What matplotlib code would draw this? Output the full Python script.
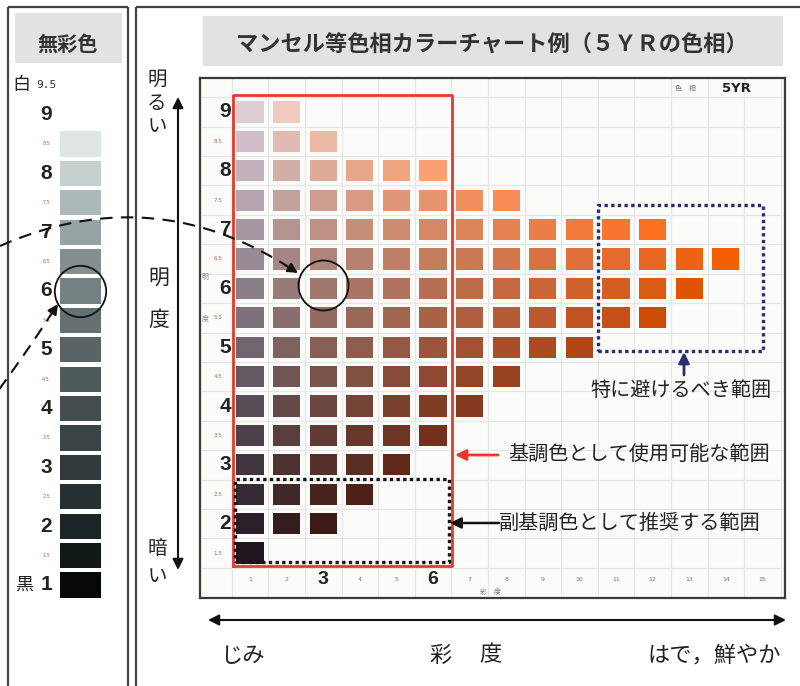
import numpy as np
import matplotlib.pyplot as plt

plt.rcParams['font.family'] = ['Noto Sans CJK JP', 'DejaVu Sans']

# chart data: Munsell value rows and the highest chroma printed in each row (5YR)
chart_values = [9, 8.5, 8, 7.5, 7, 6.5, 6, 5.5, 5, 4.5, 4, 3.5, 3, 2.5, 2, 1.5]
max_chroma = [2, 3, 6, 8, 12, 14, 13, 12, 10, 8, 7, 6, 5, 4, 3, 1]
value_labels = [9, 8, 7, 6, 5, 4, 3, 2]
half_labels = [8.5, 7.5, 6.5, 5.5, 4.5, 3.5, 2.5, 1.5]
chroma_ticks = list(range(1, 16))
big_chroma = [3, 6]

# achromatic scale
grey_values = [8.5, 8, 7.5, 7, 6.5, 6, 5.5, 5, 4.5, 4, 3.5, 3, 2.5, 2, 1.5, 1]
grey_colors = ['#dfe5e3', '#c5cfce', '#adb8b8', '#97a3a3', '#838f8f', '#758181',
               '#657070', '#5a6464', '#4e5959', '#434d4d', '#3a4444', '#313a3a',
               '#283131', '#1c2525', '#111818', '#070909']
grey_labels = [9, 8, 7, 6, 5, 4, 3, 2, 1]

# marked regions (chroma_from, chroma_to, value_from, value_to)
base_region = (0.53, 6.52, 1.28, 9.29)
sub_region = (0.59, 6.44, 1.35, 2.76)
avoid_region = (10.51, 15.02, 4.94, 7.42)


def lab_to_rgb(L, a, b):
    fy = (L + 16) / 116
    fx = fy + a / 500
    fz = fy - b / 200
    def finv(t):
        return t ** 3 if t > 6 / 29 else 3 * (6 / 29) ** 2 * (t - 4 / 29)
    X, Y, Z = 0.95047 * finv(fx), finv(fy), 1.08883 * finv(fz)
    lin = [3.2406 * X - 1.5372 * Y - 0.4986 * Z,
           -0.9689 * X + 1.8758 * Y + 0.0415 * Z,
           0.0557 * X - 0.2040 * Y + 1.0570 * Z]
    out = []
    for u in lin:
        u = max(u, 0)
        u = 12.92 * u if u <= 0.0031308 else 1.055 * u ** (1 / 2.4) - 0.055
        out.append(min(max(u, 0), 1))
    return tuple(out)


def cell_color(v, c):
    # rough 5YR appearance of the printed chips
    L = 10 * v - 6
    k = 6.2 + 1.0 * max(v - 6.5, 0)
    h = np.deg2rad(44 + 1.5 * v)
    return lab_to_rgb(L, k * c * np.cos(h) + 3, k * c * np.sin(h) - 9 / c)


def bezier(p0, p1, p2, n=80):
    t = np.linspace(0, 1, n)[:, None]
    return (1 - t) ** 2 * np.array(p0) + 2 * t * (1 - t) * np.array(p1) + t ** 2 * np.array(p2)


W, H = 800, 686
fig = plt.figure(figsize=(8, 6.86), dpi=100)

# ---- colour chart ----
ax = fig.add_axes([200 / W, 1 - 598 / H, 585 / W, 520 / H])
ax.set_xlim(-0.366, 15.617)
ax.set_ylim(0.735, 9.578)
ax.set_facecolor('#fbfbf9')
ax.set_xticks([])
ax.set_yticks([])
for s in ax.spines.values():
    s.set_color('#3a3a3a')
    s.set_linewidth(1.6)

for c in np.arange(0.5, 16, 1):
    ax.axvline(c, color='#e6e6e6', lw=0.8, zorder=1)
for v in np.arange(1.25, 9.5, 0.5):
    ax.axhline(v, color='#e6e6e6', lw=0.8, zorder=1)

for v, cmax in zip(chart_values, max_chroma):
    cs = np.arange(1, cmax + 1)
    ax.bar(cs, 0.36, bottom=v - 0.18, width=0.74,
           color=[cell_color(v, c) for c in cs], zorder=2)

for v in value_labels:
    ax.text(0.32, v, str(v), ha='center', va='center', fontsize=15,
            fontweight='bold', family='Liberation Sans', color='#222')
for v in half_labels:
    ax.text(0.12, v, str(v), ha='center', va='center', fontsize=4,
            color='#9a6a60', family='DejaVu Sans')
for c in chroma_ticks:
    if c in big_chroma:
        ax.text(c, 1.05, str(c), ha='center', va='center', fontsize=14,
                fontweight='bold', family='Liberation Sans', color='#222')
    else:
        ax.text(c, 1.05, str(c), ha='center', va='center', fontsize=4.5,
                color='#777', family='DejaVu Sans')
ax.text(7.56, 0.83, '彩　度', ha='center', va='center', fontsize=5, color='#777')
ax.text(-0.23, 6.2, '明', ha='center', va='center', fontsize=5, color='#888')
ax.text(-0.23, 5.5, '度', ha='center', va='center', fontsize=5, color='#888')
ax.text(12.9, 9.4, '色　相', ha='center', va='center', fontsize=5, color='#777')
ax.text(14.3, 9.4, '5YR', ha='center', va='center', fontsize=9.5,
        fontweight='bold', family='DejaVu Sans', color='#222')

x0, x1, y0, y1 = base_region
ax.plot([x0, x1, x1, x0, x0], [y0, y0, y1, y1, y0], color='#e8392c', lw=2, zorder=4)
x0, x1, y0, y1 = sub_region
ax.plot([x0, x1, x1, x0, x0], [y0, y0, y1, y1, y0], color='#151515', lw=2.4,
        dashes=(1, 1), zorder=5)
x0, x1, y0, y1 = avoid_region
ax.plot([x0, x1, x1, x0, x0], [y0, y0, y1, y1, y0], color='#2b2d6e', lw=2.4,
        dashes=(1, 1), zorder=5)
ax.plot(3, 6.05, 'o', ms=36, mfc='none', mec='#111', mew=1.3, zorder=6)

# ---- achromatic strip ----
gax = fig.add_axes([8 / W, 0, 121 / W, 1])
gax.set_xlim(0, 1)
gax.set_ylim(-0.718, 10.949)
gax.axis('off')
gax.bar([0.6] * len(grey_values), 0.43, bottom=np.array(grey_values) - 0.215,
        width=0.339, color=grey_colors, zorder=2)
for v in grey_labels:
    gax.text(0.315, v, str(v), ha='center', va='center', fontsize=15,
             fontweight='bold', family='Liberation Sans', color='#222')
for v in grey_values[::2]:
    gax.text(0.315, v, str(v), ha='center', va='center', fontsize=3.5,
             color='#9a6a60', family='DejaVu Sans')
gax.text(0.32, 9.5, '9.5', ha='center', va='center', fontsize=8,
         family='DejaVu Sans Mono', color='#333')
gax.text(0.11, 9.5, '白', ha='center', va='center', fontsize=13, color='#222')
gax.text(0.13, 1, '黒', ha='center', va='center', fontsize=13, color='#222')
gax.plot(0.595, 6.0, 'o', ms=37, mfc='none', mec='#111', mew=1.3, zorder=4)

# ---- overlay: frames, headers, arrows, notes ----
ov = fig.add_axes([0, 0, 1, 1], zorder=5)
ov.set_xlim(0, W)
ov.set_ylim(H, 0)
ov.axis('off')
ov.patch.set_alpha(0)

frame = dict(color='#444', lw=1.6, solid_capstyle='butt')
ov.plot([8, 8], [7, H], **frame)
ov.plot([128, 128], [7, H], **frame)
ov.plot([8, 128], [7, 7], **frame)
ov.plot([136, 136], [7, H], **frame)
ov.plot([136, W], [7, 7], **frame)

ov.add_patch(plt.Rectangle((15, 13), 107, 50, color='#e2e2e2', lw=0))
ov.add_patch(plt.Rectangle((203, 16), 580, 50, color='#e2e2e2', lw=0))
ov.text(68, 44, '無彩色', ha='center', va='center', fontsize=14.5,
        fontweight='bold', color='#333')
ov.text(492, 44, 'マンセル等色相カラーチャート例（５ＹＲの色相）', ha='center',
        va='center', fontsize=16, fontweight='bold', color='#333')

for ch, y in zip('明るい', [79, 103, 127]):
    ov.text(157, y, ch, ha='center', va='center', fontsize=14, color='#222')
for ch, y in zip('明度', [278, 320]):
    ov.text(159, y, ch, ha='center', va='center', fontsize=15, color='#222')
for ch, y in zip('暗い', [548, 576]):
    ov.text(157, y, ch, ha='center', va='center', fontsize=14, color='#222')

ov.annotate('', xy=(178, 97), xytext=(178, 570),
            arrowprops=dict(arrowstyle='<|-|>', color='#111', lw=1.5,
                            mutation_scale=16, shrinkA=0, shrinkB=0))
ov.annotate('', xy=(786, 620), xytext=(208, 620),
            arrowprops=dict(arrowstyle='<|-|>', color='#111', lw=1.5,
                            mutation_scale=16, shrinkA=0, shrinkB=0))
ov.text(243, 655, 'じみ', ha='center', va='center', fontsize=16, color='#222')
ov.text(441, 655, '彩', ha='center', va='center', fontsize=16, color='#222')
ov.text(490, 655, '度', ha='center', va='center', fontsize=16, color='#222')
ov.text(714, 655, 'はで，鮮やか', ha='center', va='center', fontsize=16, color='#222')

# notes
ov.annotate('', xy=(455, 455), xytext=(498, 455),
            arrowprops=dict(arrowstyle='-|>', color='#e8392c', lw=2,
                            mutation_scale=16, shrinkA=0, shrinkB=0))
ov.text(508, 455, '基調色として使用可能な範囲', ha='left', va='center',
        fontsize=14.5, color='#222')
ov.annotate('', xy=(450, 523), xytext=(499, 523),
            arrowprops=dict(arrowstyle='-|>', color='#111', lw=1.8,
                            mutation_scale=16, shrinkA=0, shrinkB=0))
ov.text(499, 523, '副基調色として推奨する範囲', ha='left', va='center',
        fontsize=14.5, color='#222')
ov.annotate('', xy=(684, 352), xytext=(684, 375),
            arrowprops=dict(arrowstyle='-|>', color='#2b2d6e', lw=2,
                            mutation_scale=16, shrinkA=0, shrinkB=0))
ov.text(681, 390, '特に避けるべき範囲', ha='center', va='center',
        fontsize=14.5, color='#222')

# dashed links between the two value-6 circles
c1 = bezier((0, 246), (150, 180), (287, 266))
ov.plot(c1[:, 0], c1[:, 1], color='#111', lw=1.5, dashes=(6, 4))
ov.annotate('', xy=(298, 273), xytext=(285, 265),
            arrowprops=dict(arrowstyle='-|>', color='#111', lw=1.5,
                            mutation_scale=15, shrinkA=0, shrinkB=0))
c2 = bezier((-5, 395), (28, 350), (50, 316))
ov.plot(c2[:, 0], c2[:, 1], color='#111', lw=1.5, dashes=(6, 4))
ov.annotate('', xy=(58, 304), xytext=(50, 316),
            arrowprops=dict(arrowstyle='-|>', color='#111', lw=1.5,
                            mutation_scale=15, shrinkA=0, shrinkB=0))

fig.savefig('out.png', dpi=100)
